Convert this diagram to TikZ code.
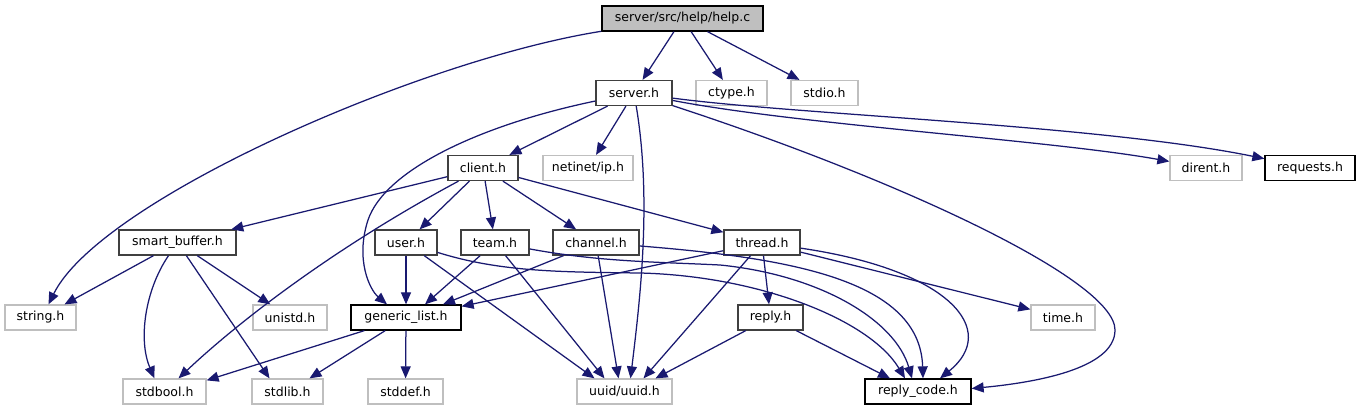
\documentclass[tikz,border=0pt]{standalone}
\usepackage{fontspec}
\setmainfont{DejaVu Sans}
\usetikzlibrary{arrows.meta}
\definecolor{edgeblue}{HTML}{191970}
\definecolor{sysgray}{HTML}{BFBFBF}
\definecolor{docgray}{HTML}{404040}
\begin{document}
\begin{tikzpicture}[x=1pt,y=-1pt,
  box/.style={draw, line width=1.25pt, minimum height=25pt, inner sep=0pt,
    font=\fontsize{12.5}{14}\selectfont, anchor=center},
  sys/.style={box, draw=sysgray},
  doc/.style={box, draw=docgray},
  leaf/.style={box, draw=black},
  root/.style={box, draw=black, fill=sysgray},
  edge/.style={draw=edgeblue, line width=1.25pt, -{Triangle[length=12pt,width=10pt]}}]
\fill[white] (0,0) rectangle (1362,411);
\useasboundingbox (0,0) rectangle (1362,411);
% nodes
\node[root, minimum width=161pt] (helpc) at (682.5,18.5) {server/src/help/help.c};
\node[doc, minimum width=76pt] (serverh) at (634,93) {server.h};
\node[sys, minimum width=71pt] (ctype) at (731.5,93) {ctype.h};
\node[sys, minimum width=67pt] (stdio) at (824.5,93) {stdio.h};
\node[doc, minimum width=70pt] (clienth) at (483,168) {client.h};
\node[sys, minimum width=90pt] (netinet) at (588,168) {netinet/ip.h};
\node[sys, minimum width=72pt] (dirent) at (1206,168) {dirent.h};
\node[leaf, minimum width=90pt] (requests) at (1310,168) {requests.h};
\node[doc, minimum width=117pt] (smartbuf) at (177.5,242.5) {smart\_buffer.h};
\node[doc, minimum width=62pt] (userh) at (406,242.5) {user.h};
\node[doc, minimum width=68pt] (teamh) at (495,242.5) {team.h};
\node[doc, minimum width=86pt] (channelh) at (596,242.5) {channel.h};
\node[doc, minimum width=76pt] (threadh) at (762,242.5) {thread.h};
\node[sys, minimum width=71pt] (stringh) at (40.5,317.5) {string.h};
\node[sys, minimum width=74pt] (unistd) at (290,317.5) {unistd.h};
\node[leaf, minimum width=110pt] (genlist) at (406,317.5) {generic\_list.h};
\node[doc, minimum width=65pt] (replyh) at (770.5,317.5) {reply.h};
\node[sys, minimum width=64pt] (timeh) at (1063,317.5) {time.h};
\node[sys, minimum width=83pt] (stdbool) at (164.5,391.5) {stdbool.h};
\node[sys, minimum width=71pt] (stdlib) at (287.5,391.5) {stdlib.h};
\node[sys, minimum width=75pt] (stddef) at (405.5,391.5) {stddef.h};
\node[sys, minimum width=95pt] (uuid) at (624.5,391.5) {uuid/uuid.h};
\node[leaf, minimum width=106pt] (replycode) at (918,391.5) {reply\_code.h};
% edges from help.c
\draw[edge] (helpc) -- (serverh);
\draw[edge] (helpc) -- (ctype);
\draw[edge] (helpc) -- (stdio);
\draw[edge] (helpc) .. controls (420,60) and (100,200) .. ([xshift=8pt]stringh.north);
% edges from server.h
\draw[edge] (serverh) -- (clienth);
\draw[edge] (serverh) -- (netinet);
\draw[edge] (serverh) .. controls (480,125) and (385,170) .. (368,220) .. controls (355,260) and (370,290) .. ([xshift=-19pt]genlist.north);
\draw[edge] (serverh) .. controls (652,200) and (640,300) .. ([xshift=6pt]uuid.north);
\draw[edge] (serverh) .. controls (900,180) and (1115,280) .. (1115,330) .. controls (1115,370) and (1030,383) .. ([yshift=3pt]replycode.east);
\draw[edge] (serverh) .. controls (800,125) and (1050,140) .. (dirent);
\draw[edge] (serverh) .. controls (800,115) and (1100,125) .. (requests);
% edges from client.h
\draw[edge] (clienth) -- (smartbuf);
\draw[edge] (clienth) .. controls (330,250) and (235,325) .. ([xshift=14pt]stdbool.north);
\draw[edge] (clienth) -- (userh);
\draw[edge] (clienth) -- (teamh);
\draw[edge] (clienth) -- (channelh);
\draw[edge] (clienth) -- (threadh);
% edges from smart_buffer.h
\draw[edge] (smartbuf) -- ([xshift=24pt]stringh.north);
\draw[edge] (smartbuf) .. controls (145,290) and (138,340) .. ([xshift=-10pt]stdbool.north);
\draw[edge] (smartbuf) -- ([xshift=-18pt]stdlib.north);
\draw[edge] (smartbuf) -- (unistd);
% edges from user.h
\draw[edge] (userh) -- (genlist);
\draw[edge] (userh) -- ([xshift=-30pt]uuid.north);
\draw[edge] (userh) .. controls (500,272) and (560,272) .. (640,273) .. controls (760,276) and (870,320) .. ([xshift=-13pt]replycode.north);
% edges from team.h
\draw[edge] (teamh) .. controls (600,262) and (660,262) .. (720,265) .. controls (820,275) and (895,320) .. ([xshift=-6pt]replycode.north);
\draw[edge] (teamh) -- ([xshift=19pt]genlist.north);
\draw[edge] (teamh) -- ([xshift=-20pt]uuid.north);
% edges from channel.h
\draw[edge] (channelh) -- ([xshift=37pt]genlist.north);
\draw[edge] (channelh) -- ([xshift=-6pt]uuid.north);
\draw[edge] (channelh) .. controls (790,258) and (920,280) .. ([xshift=5pt]replycode.north);
% edges from thread.h
\draw[edge] (threadh) -- ([yshift=-2pt]genlist.north east);
\draw[edge] (threadh) -- ([xshift=19pt]uuid.north);
\draw[edge] (threadh) -- (replyh);
\draw[edge] (threadh) .. controls (950,270) and (1000,330) .. ([xshift=22pt]replycode.north);
\draw[edge] (threadh) -- (timeh);
% edges from generic_list.h
\draw[edge] (genlist) -- ([yshift=-2pt]stdbool.north east);
\draw[edge] (genlist) -- ([xshift=22pt]stdlib.north);
\draw[edge] (genlist) -- (stddef);
% edges from reply.h
\draw[edge] (replyh) -- ([xshift=31pt]uuid.north);
\draw[edge] (replyh) -- ([xshift=-28pt]replycode.north);
\end{tikzpicture}
\end{document}
